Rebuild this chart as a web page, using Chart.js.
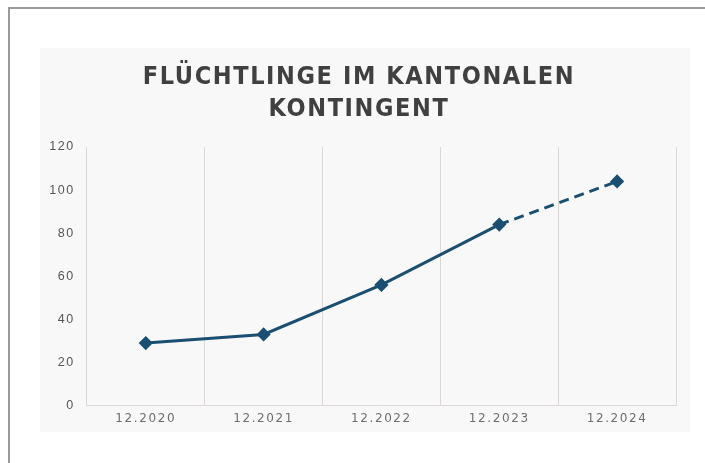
<!DOCTYPE html>
<html>
<head>
<meta charset="utf-8">
<script src="https://cdn.jsdelivr.net/npm/chart.js@4/dist/chart.umd.min.js"></script>
<style>
  html, body { margin: 0; padding: 0; background: #fff; }
  body { width: 705px; height: 463px; position: relative; overflow: hidden; }
  .frame { position: absolute; left: 8px; top: 7px; width: 700px; height: 460px;
           border-left: 2px solid #9a9a9a; border-top: 2px solid #9a9a9a; }
  .panel { position: absolute; left: 40px; top: 48px; width: 650px; height: 384px; background: #f8f8f8; }
</style>
</head>
<body>
<div class="frame"></div>
<div class="panel"><canvas id="fluechtlingeChart" width="650" height="384"></canvas></div>
<script>
// Daten
var periods = ["12.2020", "12.2021", "12.2022", "12.2023", "12.2024"];
var refugees = [29, 33, 56, 84, 104];
var yTicks = [0, 20, 40, 60, 80, 100, 120];

var lineColor = '#1b4f72';

// letter spacing for the canvas text (Chart.js has no option for it)
var spacingPlugin = {
  id: 'spacing',
  beforeDraw: function (chart) {
    chart.ctx.letterSpacing = '1.6px';
  }
};

var ctx = document.getElementById('fluechtlingeChart').getContext('2d');

var fluechtlingeChart = new Chart(ctx, {
  type: 'line',
  data: {
    labels: periods,
    datasets: [{
      label: 'Flüchtlinge',
      data: refugees,
      borderColor: lineColor,
      backgroundColor: lineColor,
      borderWidth: 3,
      pointStyle: 'rectRot',
      pointRadius: 5,
      pointBackgroundColor: lineColor,
      pointBorderColor: lineColor,
      tension: 0,
      segment: {
        // last step is a forecast -> dashed
        borderDash: function (c) { return c.p1DataIndex === refugees.length - 1 ? [10, 6] : undefined; }
      }
    }]
  },
  options: {
    responsive: false,
    animation: false,
    layout: { padding: { left: 2, right: 14, top: 13, bottom: 0 } },
    scales: {
      x: {
        offset: true,
        grid: { display: true, offset: true, color: '#dcd6d6', drawTicks: false },
        border: { display: true, color: '#dcd6d6' },
        ticks: { color: '#6e6e6e', padding: 6, font: { family: 'DejaVu Sans', size: 12 } }
      },
      y: {
        min: 0,
        max: 120,
        afterBuildTicks: function (scale) {
          scale.ticks = yTicks.map(function (v) { return { value: v }; });
        },
        grid: { display: false, drawTicks: false },
        border: { display: false },
        ticks: { color: '#555', padding: 12, font: { family: 'Liberation Sans', size: 12.5 } }
      }
    },
    plugins: {
      legend: { display: false },
      tooltip: { enabled: false },
      title: {
        display: true,
        text: ['FLÜCHTLINGE IM KANTONALEN', 'KONTINGENT'],
        color: '#404040',
        font: { family: 'DejaVu Sans Condensed', size: 25, weight: 'bold', lineHeight: 1.28 },
        padding: { top: 0, bottom: 22 }
      }
    }
  },
  plugins: [spacingPlugin]
});
</script>
</body>
</html>
